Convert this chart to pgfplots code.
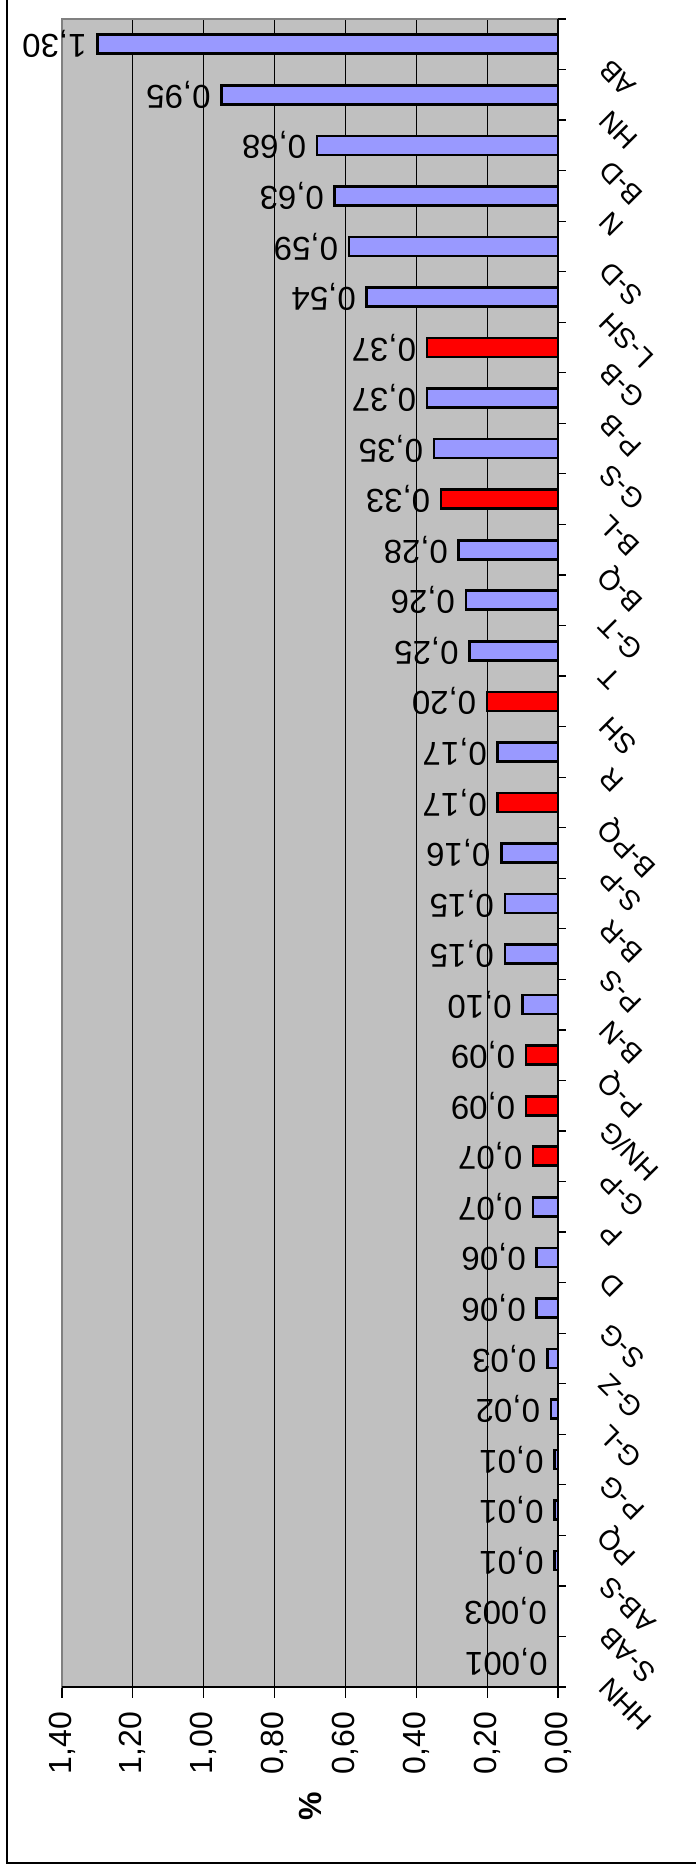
\documentclass[border=0pt]{standalone}
\usepackage{pgfplots}
\pgfplotsset{compat=1.18}
\usepackage{pgfplotstable}
\usepackage{fontspec}
\setmainfont{Liberation Sans}
\definecolor{barblue}{HTML}{9999FF}
\definecolor{barred}{HTML}{FF0000}
\definecolor{plotbg}{HTML}{C0C0C0}
\definecolor{bordergray}{HTML}{808080}

\pgfplotstableread{
y x lab
33 1.30 1,30
32 0.95 0,95
31 0.68 0,68
30 0.63 0,63
29 0.59 0,59
28 0.54 0,54
26 0.37 0,37
25 0.35 0,35
23 0.28 0,28
22 0.26 0,26
21 0.25 0,25
19 0.17 0,17
17 0.16 0,16
16 0.15 0,15
15 0.15 0,15
14 0.10 0,10
10 0.07 0,07
9 0.06 0,06
8 0.06 0,06
7 0.03 0,03
6 0.02 0,02
5 0.01 0,01
4 0.01 0,01
3 0.01 0,01
}\bluedata

\pgfplotstableread{
y x lab
27 0.37 0,37
24 0.33 0,33
20 0.20 0,20
18 0.17 0,17
13 0.09 0,09
12 0.09 0,09
11 0.07 0,07
}\reddata

\pgfplotstableread{
y x lab
2 0.003 0,003
1 0.001 0,001
}\tinydata

\begin{document}
\begin{tikzpicture}
\path[use as bounding box] (0,0) rectangle (348pt,935pt);
\draw[line width=0.7pt] (3.5pt,940pt) -- (3.5pt,3.5pt) -- (352pt,3.5pt);
\begin{axis}[
  at={(31pt,91.5pt)}, anchor=south west,
  scale only axis, width=248pt, height=834pt,
  xbar, bar width=9.5pt, bar shift=0pt,
  x dir=reverse,
  xmin=0, xmax=1.4, ymin=0.5, ymax=33.5,
  clip=false,
  axis background/.style={fill=plotbg},
  axis line style={draw=bordergray, line width=1pt},
  xtick={0,0.2,0.4,0.6,0.8,1.0,1.2,1.4},
  xticklabel={\pgfmathprintnumber[fixed,fixed zerofill,precision=2,use comma,assume math mode=true]{\tick}},
  xtick pos=left,
  xmajorgrids,
  major grid style={black, line width=0.6pt},
  tick align=outside,
  major tick length=5.5pt,
  tick style={black, line width=0.6pt},
  xticklabel style={font=\fontsize{16}{19}\selectfont, yshift=-3.5pt, rotate=90, anchor=east},
  ytick={1,...,33},
  yticklabels={HHN,S-AB,AB-S,PQ,P-G,G-L,G-Z,S-G,D,P,G-P,HN/G,P-Q,B-N,P-S,B-R,S-P,B-PQ,R,SH,T,G-T,B-Q,B-L,G-S,P-B,G-B,L-SH,S-D,N,B-D,HN,AB},
  ytick pos=right,
  yticklabel pos=right,
  ytick style={draw=none},
  yticklabel style={font=\fontsize{14}{16}\selectfont, anchor=east, yshift=-8pt, xshift=15pt, rotate=135},
  extra y ticks={0.5,1.5,...,33.5},
  extra y tick labels={},
  extra y tick style={major tick length=4pt, ytick style={draw=black}},
  xlabel={\%},
  xlabel style={font=\bfseries\fontsize{16}{19}\selectfont, at={(axis description cs:0.5,-0.0713)}, anchor=center, rotate=90},
  point meta=explicit symbolic,
  nodes near coords,
  nodes near coords style={font=\fontsize{16.5}{19}\selectfont, anchor=west, rotate=180, inner xsep=4.8pt, text=black},
]
\addplot[fill=barblue, draw=black, line width=1.3pt] table[x=x, y=y, meta=lab] {\bluedata};
\addplot[fill=barred, draw=black, line width=1.3pt] table[x=x, y=y, meta=lab] {\reddata};
\addplot[fill=barblue, draw=none] table[x=x, y=y, meta=lab] {\tinydata};
\draw[black, line width=0.8pt] (rel axis cs:0,0) -- (rel axis cs:1,0);
\draw[black, line width=1pt] (axis cs:0,0.5) -- (axis cs:0,33.5);
\end{axis}
\end{tikzpicture}
\end{document}
